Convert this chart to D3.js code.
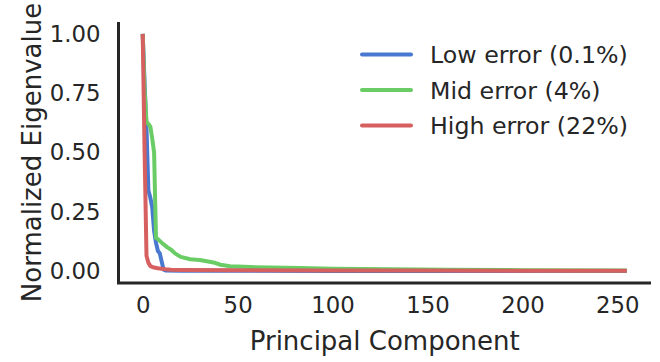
<!DOCTYPE html>
<html>
<head>
<meta charset="utf-8">
<script src="https://cdn.jsdelivr.net/npm/d3@7"></script>
<style>
  body { margin: 0; background: #fff; }
  text { font-family: "DejaVu Sans", sans-serif; fill: #262626; }
</style>
</head>
<body>
<script>
// eigenvalue spectra (component index, normalized value)
var lowComp  = [0, 1, 2, 3, 4, 5, 6, 7, 8, 9, 10, 11, 12, 20, 50, 100, 150, 200, 255];
var lowVal   = [1.0, 0.79, 0.60, 0.34, 0.31, 0.27, 0.17, 0.12, 0.085, 0.075, 0.04, 0.006, 0.003, 0.002, 0.0015, 0.001, 0.001, 0.0008, 0.0005];

var midComp  = [0, 1, 2, 3, 4, 5, 6, 7, 8, 10, 13, 15, 17, 20, 25, 30, 33, 38, 41, 46, 57, 67, 83, 100, 130, 160, 200, 255];
var midVal   = [1.0, 0.76, 0.63, 0.62, 0.61, 0.56, 0.50, 0.14, 0.135, 0.12, 0.10, 0.09, 0.075, 0.06, 0.05, 0.047, 0.043, 0.035, 0.027, 0.021, 0.017, 0.015, 0.013, 0.01, 0.008, 0.006, 0.004, 0.003];

var highComp = [0, 1, 2, 3, 4, 5, 6, 8, 10, 12, 15, 20, 50, 100, 150, 200, 255];
var highVal  = [1.0, 0.50, 0.065, 0.035, 0.022, 0.018, 0.015, 0.012, 0.01, 0.008, 0.006, 0.005, 0.004, 0.003, 0.003, 0.002, 0.002];

var seriesNames  = ['Low error (0.1%)', 'Mid error (4%)', 'High error (22%)'];
var seriesColors = ['#4878CF', '#6ACC65', '#D65F5F'];
var xTicks = [0, 50, 100, 150, 200, 250];
var yTicks = [0, 0.25, 0.5, 0.75, 1.0];

var series = [
    { name: seriesNames[0], color: seriesColors[0], x: lowComp, y: lowVal },
    { name: seriesNames[1], color: seriesColors[1], x: midComp, y: midVal },
    { name: seriesNames[2], color: seriesColors[2], x: highComp, y: highVal }
];

var width = 660, height = 362;
var plotLeft = 118.5, plotRight = 651, plotTop = 22, plotBottom = 283;

var svg = d3.select('body').append('svg')
    .attr('width', width)
    .attr('height', height)

var x = d3.scaleLinear().domain([-12.75, 267.75]).range([plotLeft, plotRight])
var y = d3.scaleLinear().domain([-0.05, 1.05]).range([plotBottom, plotTop])

var line = d3.line()
    .x(function (d) { return x(d[0]) })
    .y(function (d) { return y(d[1]) })

svg.selectAll('path.series')
    .data(series)
    .enter().append('path')
    .attr('class', 'series')
    .attr('fill', 'none')
    .attr('stroke', function (d) { return d.color })
    .attr('stroke-width', 4)
    .attr('stroke-linejoin', 'round')
    .attr('d', function (d) { return line(d3.zip(d.x, d.y)) })

// axes: seaborn white style, no tick marks
var xAxis = svg.append('g')
    .attr('transform', 'translate(0,' + plotBottom + ')')
    .call(d3.axisBottom(x).tickValues(xTicks).tickSize(0).tickPadding(14))
xAxis.select('.domain').remove()
xAxis.selectAll('text').style('font-size', '22.8px').attr('fill', '#262626')

var yAxis = svg.append('g')
    .attr('transform', 'translate(' + plotLeft + ',0)')
    .call(d3.axisLeft(y).tickValues(yTicks).tickSize(0).tickPadding(18).tickFormat(d3.format('.2f')))
yAxis.select('.domain').remove()
yAxis.selectAll('text').style('font-size', '22.8px').attr('fill', '#262626')

// spines
svg.append('line')
    .attr('x1', plotLeft).attr('x2', plotLeft)
    .attr('y1', plotTop).attr('y2', plotBottom)
    .attr('stroke', '#262626').attr('stroke-width', 3)
svg.append('line')
    .attr('x1', plotLeft - 1.5).attr('x2', plotRight)
    .attr('y1', plotBottom).attr('y2', plotBottom)
    .attr('stroke', '#262626').attr('stroke-width', 3)

svg.append('text')
    .attr('x', (plotLeft + plotRight) / 2)
    .attr('y', 350)
    .attr('text-anchor', 'middle')
    .style('font-size', '26px')
    .text('Principal Component')

svg.append('text')
    .attr('transform', 'translate(41,' + (plotTop + plotBottom) / 2 + ') rotate(-90)')
    .attr('text-anchor', 'middle')
    .style('font-size', '26px')
    .text('Normalized Eigenvalue')

// legend
var legend = svg.selectAll('g.legend')
    .data(series)
    .enter().append('g')
    .attr('class', 'legend')
    .attr('transform', function (d, i) { return 'translate(362,' + (54.5 + i * 35.5) + ')' })

legend.append('line')
    .attr('x1', 0).attr('x2', 49)
    .attr('stroke', function (d) { return d.color })
    .attr('stroke-width', 4)
    .attr('stroke-linecap', 'round')

legend.append('text')
    .attr('x', 68)
    .attr('dy', '0.36em')
    .style('font-size', '23.7px')
    .text(function (d) { return d.name })
</script>
</body>
</html>
